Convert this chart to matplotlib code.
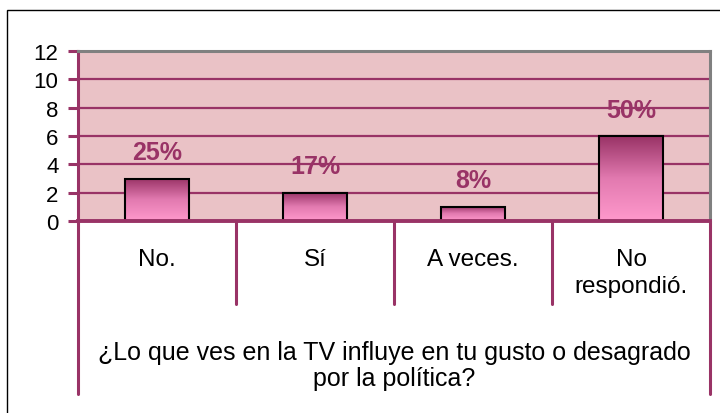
import matplotlib
matplotlib.use("Agg")
import matplotlib.pyplot as plt
import numpy as np
from matplotlib.colors import LinearSegmentedColormap
from matplotlib.patches import Rectangle
from matplotlib.transforms import blended_transform_factory

plt.rcParams["font.family"] = ["Liberation Sans", "DejaVu Sans"]

categories = ["No.", "Sí", "A veces.", "No\nrespondió."]
counts = [3, 2, 1, 6]
percent_labels = ["25%", "17%", "8%", "50%"]
y_ticks = [0, 2, 4, 6, 8, 10, 12]
question = "¿Lo que ves en la TV influye en tu gusto o desagrado\npor la política?"

PURPLE = "#993366"
BG = "#EAC2C6"

fig = plt.figure(figsize=(7.2, 4.14), dpi=100)
W, H = 720, 414


def fx(px):
    return px / W


def fy(py):
    return 1 - py / H


# outer chart frame (right/bottom edges fall outside the image)
fig.patches.append(Rectangle((fx(7), fy(430)), 1.2, fy(11) - fy(430),
                             transform=fig.transFigure, fill=False,
                             edgecolor="black", linewidth=1.0))

ax = fig.add_axes([fx(78), fy(222), fx(710) - fx(78), fy(52) - fy(222)])
ax.set_facecolor(BG)

cmap = LinearSegmentedColormap.from_list("bar", ["#FF99CC", "#E27AB0", PURPLE])
grad = np.linspace(0, 1, 256).reshape(-1, 1)
width = 0.4
xs = np.arange(len(categories))
for x, c in zip(xs, counts):
    bar = ax.bar(x, c, width=width, color="none", edgecolor="black",
                 linewidth=1.5, zorder=4)[0]
    im = ax.imshow(grad, extent=[x - width / 2, x + width / 2, 0, c],
                   origin="lower", aspect="auto", cmap=cmap, zorder=3)
    im.set_clip_path(bar)

for x, c, lab in zip(xs, counts, percent_labels):
    ax.annotate(lab, (x, c), xytext=(0, 19), textcoords="offset points",
                ha="center", va="center", fontsize=18, fontweight="bold",
                color=PURPLE, zorder=5)

ax.set_xlim(-0.5, len(categories) - 0.5)
ax.set_ylim(0, 12)
ax.set_yticks(y_ticks)
ax.set_xticks([])
for t in y_ticks[1:-1]:
    ax.axhline(t, color=PURPLE, linewidth=1.6, zorder=1)

ax.spines["left"].set_color(PURPLE)
ax.spines["left"].set_linewidth(2.2)
ax.spines["bottom"].set_color(PURPLE)
ax.spines["bottom"].set_linewidth(2.8)
ax.spines["bottom"].set_zorder(6)
ax.spines["top"].set_color("#808080")
ax.spines["top"].set_linewidth(2.2)
ax.spines["right"].set_color("#808080")
ax.spines["right"].set_linewidth(2.2)
ax.tick_params(axis="y", direction="out", length=7, width=2.2, color=PURPLE,
               labelsize=16, pad=7)

# category label table below the axis
tr = blended_transform_factory(ax.transData, fig.transFigure)
for sep in xs[:-1] + 0.5:
    ax.plot([sep, sep], [fy(222), fy(305)], color=PURPLE, linewidth=2.2,
            transform=tr, clip_on=False, solid_capstyle="round")
for edge in [-0.5, len(categories) - 0.5]:
    ax.plot([edge, edge], [fy(222), fy(395)], color=PURPLE, linewidth=2.2,
            transform=tr, clip_on=False, solid_capstyle="round")

for x, lab in zip(xs, categories):
    ax.text(x, fy(249), lab, transform=tr, ha="center", va="top",
            fontsize=17.5, linespacing=1.3)

ax.text((len(categories) - 1) / 2, fy(366), question, transform=tr,
        ha="center", va="center", fontsize=18, linespacing=1.15)

fig.savefig("out.png", dpi=100)
